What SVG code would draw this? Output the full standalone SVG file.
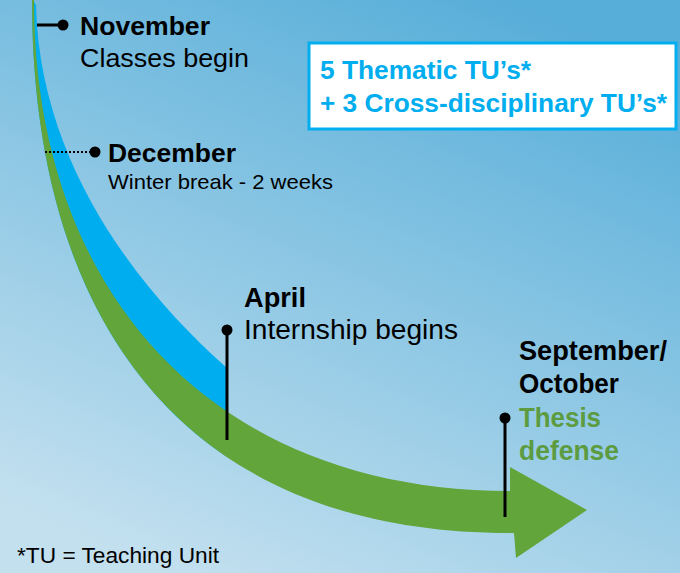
<svg xmlns="http://www.w3.org/2000/svg" width="680" height="573" viewBox="0 0 680 573">
<defs>
<linearGradient id="bg" x1="0.75" y1="0" x2="0.25" y2="1">
<stop offset="0" stop-color="#57aed9"/>
<stop offset="1" stop-color="#c3e0ef"/>
</linearGradient>
<clipPath id="cutBlue"><rect x="0" y="0" width="227" height="573"/></clipPath>
<style>
text{font-family:"Liberation Sans",Arial,sans-serif;fill:#000}
.b{font-weight:bold}
.lbl{font-size:26px}
.sub{font-size:25px}
.tu{fill:#00aeef;font-weight:bold;font-size:26px}
.gt{fill:#5c9b40;font-weight:bold;font-size:27px}
.stem{stroke:#000;stroke-width:3;fill:none}
.dot{fill:#000}
</style>
</defs>
<rect width="680" height="573" fill="url(#bg)"/>

<g id="connectors">
<path id="blue-band" clip-path="url(#cutBlue)" fill="#00aeef" d="M33,0 L36,5 C40,190 175,330 260,395 L520,395 L520,540 L510,533 C175,533 32,310 32,0 Z"/>
<path id="green-arrow" fill="#62a53a" d="M32,0 C32,310 175,533 510,533 L514,533 L516,558 L587,510 L510,467 L510,491 C220,491 34,300 34,0 Z"/>
</g>

<g id="box">
<rect x="309" y="43" width="367" height="86" fill="#fff" stroke="#00aeef" stroke-width="3"/>
<text class="tu" x="320" y="79" textLength="211" lengthAdjust="spacingAndGlyphs">5 Thematic TU’s*</text>
<text class="tu" x="320" y="112" textLength="347" lengthAdjust="spacingAndGlyphs">+ 3 Cross-disciplinary TU’s*</text>
</g>

<g id="november">
<line class="stem" x1="37" y1="25" x2="63" y2="25"/>
<circle class="dot" cx="63" cy="25" r="5.5"/>
<text class="b lbl" x="80" y="35" textLength="130" lengthAdjust="spacingAndGlyphs">November</text>
<text class="sub" x="80" y="67" textLength="169" lengthAdjust="spacingAndGlyphs">Classes begin</text>
</g>

<g id="december">
<line x1="45" y1="152" x2="92" y2="152" stroke="#000" stroke-width="2" stroke-dasharray="2,2"/>
<circle class="dot" cx="95" cy="152" r="5.5"/>
<text class="b lbl" x="108" y="162" textLength="128" lengthAdjust="spacingAndGlyphs">December</text>
<text x="108" y="189" font-size="21" textLength="225" lengthAdjust="spacingAndGlyphs">Winter break - 2 weeks</text>
</g>

<g id="april">
<line class="stem" x1="227" y1="330" x2="227" y2="440"/>
<circle class="dot" cx="227" cy="330" r="5.5"/>
<text class="b" font-size="27" x="244" y="307" textLength="62" lengthAdjust="spacingAndGlyphs">April</text>
<text font-size="27" x="244" y="339" textLength="214" lengthAdjust="spacingAndGlyphs">Internship begins</text>
</g>

<g id="september">
<line class="stem" x1="505" y1="418" x2="505" y2="517"/>
<circle class="dot" cx="505" cy="418" r="5.5"/>
<text class="b" font-size="27" x="519" y="360" textLength="148" lengthAdjust="spacingAndGlyphs">September/</text>
<text class="b" font-size="27" x="519" y="393" textLength="100" lengthAdjust="spacingAndGlyphs">October</text>
<text class="gt" x="519" y="427" textLength="82" lengthAdjust="spacingAndGlyphs">Thesis</text>
<text class="gt" x="519" y="460" textLength="100" lengthAdjust="spacingAndGlyphs">defense</text>
</g>

<g id="footnote">
<text x="17" y="563" font-size="22" textLength="202" lengthAdjust="spacingAndGlyphs">*TU = Teaching Unit</text>
</g>
</svg>
